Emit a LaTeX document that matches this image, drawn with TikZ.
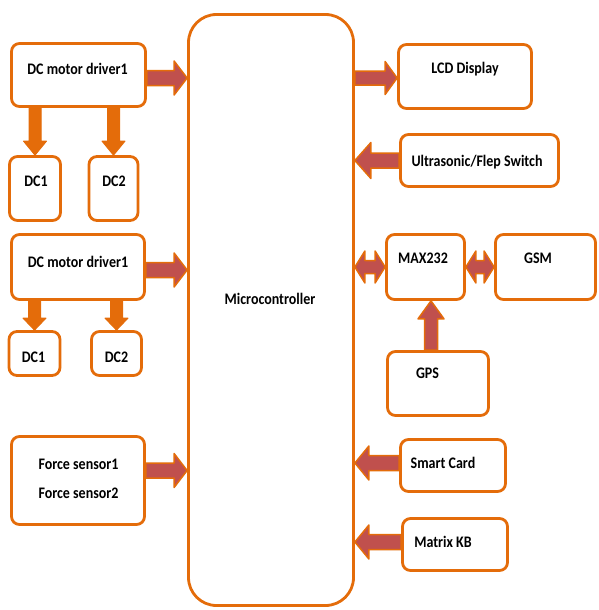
\documentclass[tikz,border=0pt]{standalone}
\usepackage{fontspec}
\setmainfont{Carlito}
\usetikzlibrary{calc}
\definecolor{orng}{RGB}{228,108,10}
\definecolor{rbrn}{RGB}{192,80,77}
% #1 style, #2 shaft half-width, #3 head half-width, #4 head length, #5 from, #6 to
\newcommand\bigarrow[6]{\path[#1] let \p1=#5, \p2=#6, \n1={veclen(\x2-\x1,\y2-\y1)}, \n2={atan2(\y2-\y1,\x2-\x1)} in
 ([shift={(\p1)},rotate=\n2]0,-#2) -- ([shift={(\p1)},rotate=\n2]\n1-#4,-#2) -- ([shift={(\p1)},rotate=\n2]\n1-#4,-#3)
 -- ([shift={(\p1)},rotate=\n2]\n1,0) -- ([shift={(\p1)},rotate=\n2]\n1-#4,#3) -- ([shift={(\p1)},rotate=\n2]\n1-#4,#2)
 -- ([shift={(\p1)},rotate=\n2]0,#2) -- cycle;}
\newcommand\bigdarrow[6]{\path[#1] let \p1=#5, \p2=#6, \n1={veclen(\x2-\x1,\y2-\y1)}, \n2={atan2(\y2-\y1,\x2-\x1)} in
 ([shift={(\p1)},rotate=\n2]0,0) -- ([shift={(\p1)},rotate=\n2]#4,-#3) -- ([shift={(\p1)},rotate=\n2]#4,-#2)
 -- ([shift={(\p1)},rotate=\n2]\n1-#4,-#2) -- ([shift={(\p1)},rotate=\n2]\n1-#4,-#3) -- ([shift={(\p1)},rotate=\n2]\n1,0)
 -- ([shift={(\p1)},rotate=\n2]\n1-#4,#3) -- ([shift={(\p1)},rotate=\n2]\n1-#4,#2) -- ([shift={(\p1)},rotate=\n2]#4,#2)
 -- ([shift={(\p1)},rotate=\n2]#4,#3) -- cycle;}
\begin{document}
\begin{tikzpicture}[x=1pt,y=-1pt,
 box/.style={draw=orng, line width=2.8pt, rounded corners=8pt, fill=white, inner sep=0pt},
 lbl/.style={font=\fontsize{14}{17}\selectfont\bfseries, text=black, inner sep=0pt, yscale=1.15},
 harr/.style={draw=orng, fill=rbrn, line width=1.5pt, line join=round},
 varr/.style={draw=orng, fill=orng, line width=1pt, line join=round}]
\useasboundingbox (0,0) rectangle (598,610);
% left column
\node[box, minimum width=134, minimum height=63, label={[lbl,shift={(-1,-5)}]center:DC motor driver1}] (drv1) at (78.5,75) {};
\node[box, minimum width=51, minimum height=64, label={[lbl,shift={(1,-6.5)}]center:DC1}] (dc1a) at (35,188.5) {};
\node[box, minimum width=49, minimum height=64, label={[lbl,shift={(0.5,-6.5)}]center:DC2}] (dc2a) at (113.5,188.5) {};
\node[box, minimum width=133, minimum height=65, label={[lbl,shift={(0,-4)}]center:DC motor driver1}] (drv2) at (78,267) {};
\node[box, minimum width=51, minimum height=44, label={[lbl,shift={(-1,3)}]center:DC1}] (dc1b) at (34.5,353.5) {};
\node[box, minimum width=50, minimum height=44, label={[lbl,shift={(0,3)}]center:DC2}] (dc2b) at (116.5,353.5) {};
\node[box, minimum width=133, minimum height=88, label={[lbl,font=\fontsize{14}{25}\selectfont\bfseries,align=center,shift={(0.5,-1.5)}]center:{Force sensor1\\Force sensor2}}] (fs) at (78,480.5) {};
% micro
\node[box, rounded corners=28pt, minimum width=165, minimum height=591, label={[lbl,shift={(-1,-10)}]center:Microcontroller}] (mc) at (271,310) {};
% right column
\node[box, minimum width=133, minimum height=64, label={[lbl,shift={(0,-6.5)}]center:LCD Display}] (lcd) at (465,76.5) {};
\node[box, minimum width=158, minimum height=52, label={[lbl,shift={(-2.5,1)}]center:Ultrasonic/Flep Switch}] (us) at (479.5,160.5) {};
\node[box, minimum width=78, minimum height=65, label={[lbl,shift={(-2.5,-8)}]center:MAX232}] (max) at (425.5,267) {};
\node[box, minimum width=100, minimum height=65, label={[lbl,shift={(-7.5,-8)}]center:GSM}] (gsm) at (545.5,267) {};
\node[box, minimum width=101, minimum height=64, label={[lbl,shift={(-10.5,-8.5)}]center:GPS}] (gps) at (438,383.5) {};
\node[box, minimum width=105, minimum height=52, label={[lbl,shift={(-10,-2.5)}]center:Smart Card}] (sc) at (453,465.5) {};
\node[box, minimum width=105, minimum height=52, label={[lbl,shift={(-12,-2.5)}]center:Matrix KB}] (kb) at (455,544.5) {};
% coordinates
\coordinate (p1) at ($(drv1.east)+(0,3)$);
\coordinate (p2) at ($(drv2.east)+(0,3)$);
\coordinate (p3) at ($(fs.east)+(0,-10)$);
\coordinate (p4) at ($(lcd.west)+(0,1.5)$);
\coordinate (p5) at ($(sc.west)+(0,-2.5)$);
\coordinate (p6) at ($(kb.west)+(0,-2.5)$);
\coordinate (gpsT) at ($(gps.north)+(-7,0)$);
% arrows
\bigarrow{harr}{7.5}{17}{13}{(p1)}{(mc.west |- p1)}
\bigarrow{harr}{7.5}{17}{13}{(p2)}{(mc.west |- p2)}
\bigarrow{harr}{7.5}{17}{13}{(p3)}{(mc.west |- p3)}
\bigarrow{varr}{6}{11.5}{14}{(dc1a.north |- drv1.south)}{(dc1a.north)}
\bigarrow{varr}{6}{11.5}{14}{(dc2a.north |- drv1.south)}{(dc2a.north)}
\bigarrow{varr}{6}{11.5}{12}{(dc1b.north |- drv2.south)}{(dc1b.north)}
\bigarrow{varr}{6}{11.5}{12}{(dc2b.north |- drv2.south)}{(dc2b.north)}
\bigarrow{harr}{7}{16.5}{12}{(mc.east |- p4)}{(p4)}
\bigarrow{harr}{7.5}{18}{16}{(us.west)}{(mc.east |- us.west)}
\bigdarrow{harr}{6.5}{16}{10}{(mc.east |- max.west)}{(max.west)}
\bigdarrow{harr}{6.5}{16}{10}{(max.east)}{(gsm.west)}
\bigarrow{harr}{6.5}{13}{18}{(gpsT)}{(max.south -| gpsT)}
\bigarrow{harr}{7.5}{17}{14}{(p5)}{(mc.east |- p5)}
\bigarrow{harr}{7.5}{17}{14}{(p6)}{(mc.east |- p6)}
\end{tikzpicture}
\end{document}
